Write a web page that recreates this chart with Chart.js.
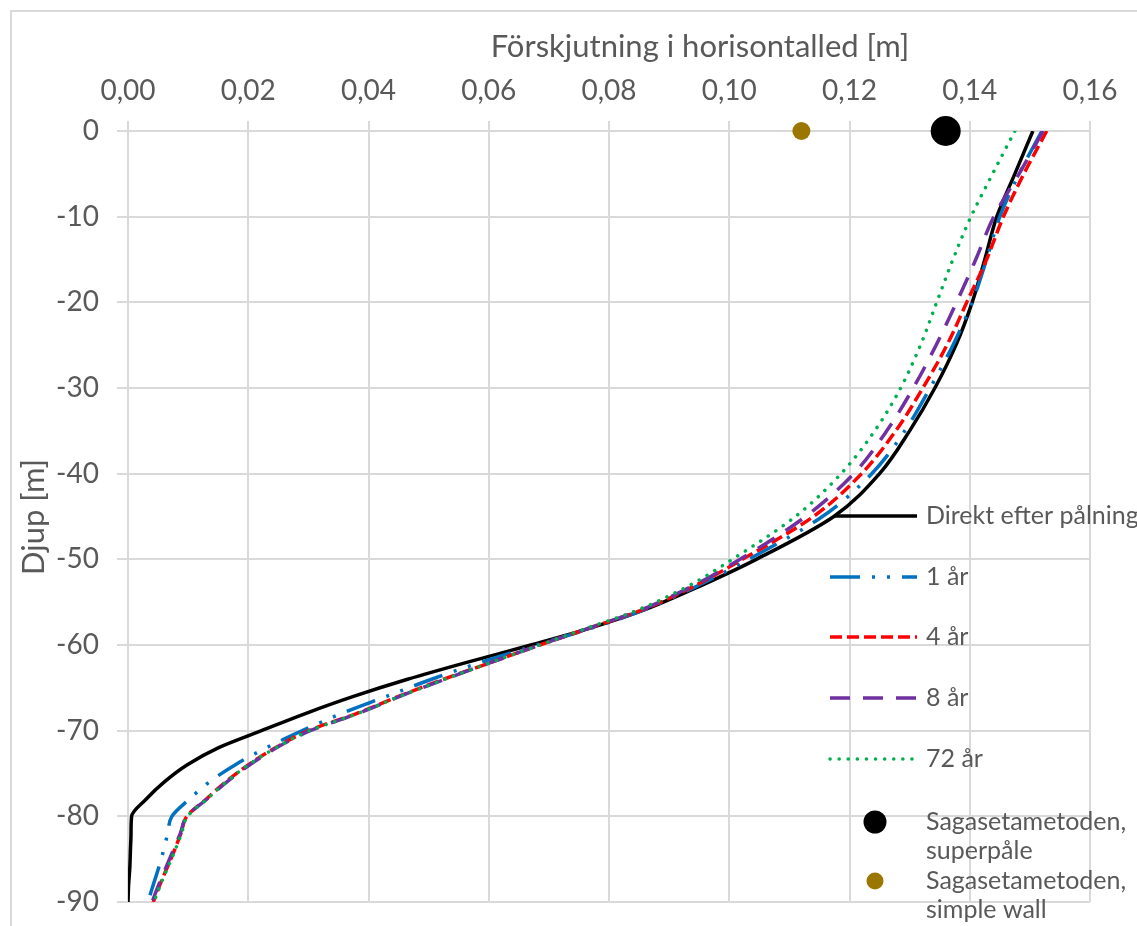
<!DOCTYPE html>
<html>
<head>
<meta charset="utf-8">
<title>Förskjutning i horisontalled</title>
<script src="https://cdn.jsdelivr.net/npm/chart.js@4.4.0/dist/chart.umd.min.js"></script>
<style>
  body { margin: 0; background: #fff; }
  #wrap { width: 1137px; height: 926px; }
</style>
</head>
<body>
<div id="wrap"><canvas id="chart" width="1137" height="926"></canvas></div>
<script>
// ----------- DATA ----------- //
// depth [m] and horizontal displacement [m] for each curve
const depth = [0, -5, -10, -15, -20, -25, -30, -35, -40, -45, -50, -53, -56, -58, -60,
  -62, -64, -66, -68, -70, -72, -74, -76, -78, -80, -82, -84, -86, -88, -90];

const direkt = [0.1505, 0.1475, 0.1445, 0.1425, 0.1404, 0.1377, 0.1342, 0.1300, 0.1250, 0.1174,
  0.1045, 0.0955, 0.0855, 0.0770, 0.0670, 0.0565, 0.0465, 0.0375, 0.0295, 0.0222,
  0.0150, 0.0098, 0.0060, 0.0030, 0.0006, 0.0005, 0.0004, 0.0003, 0.0001, 0.0];
const ar1 = [0.1520, 0.1482, 0.1450, 0.1428, 0.1404, 0.1372, 0.1334, 0.1292, 0.1237, 0.1155,
  0.1032, 0.0950, 0.0855, 0.0772, 0.0680, 0.0588, 0.0505, 0.0430, 0.0355, 0.0290,
  0.0230, 0.0178, 0.0135, 0.0102, 0.0073, 0.0066, 0.0059, 0.0051, 0.0042, 0.0033];
const ar4 = [0.1528, 0.1490, 0.1456, 0.1428, 0.1395, 0.1362, 0.1322, 0.1277, 0.1220, 0.1140,
  0.1022, 0.0945, 0.0852, 0.0768, 0.0685, 0.0605, 0.0525, 0.0450, 0.0380, 0.0300,
  0.0245, 0.0200, 0.0162, 0.0130, 0.0098, 0.0088, 0.0077, 0.0065, 0.0053, 0.0042];
const ar8 = [0.1522, 0.1482, 0.1440, 0.1410, 0.1378, 0.1344, 0.1306, 0.1262, 0.1207, 0.1127,
  0.1018, 0.0942, 0.0850, 0.0768, 0.0685, 0.0605, 0.0527, 0.0452, 0.0382, 0.0303,
  0.0247, 0.0202, 0.0164, 0.0131, 0.0098, 0.0087, 0.0075, 0.0063, 0.0051, 0.0040];
const ar72 = [0.1475, 0.1438, 0.1402, 0.1372, 0.1345, 0.1318, 0.1285, 0.1242, 0.1186, 0.1110,
  0.1005, 0.0935, 0.0845, 0.0765, 0.0685, 0.0605, 0.0527, 0.0452, 0.0382, 0.0302,
  0.0246, 0.0200, 0.0163, 0.0131, 0.0099, 0.0089, 0.0078, 0.0066, 0.0054, 0.0043];

// Sagasetametoden results at ground level
const superpaleX = [0.136];
const superpaleY = [0];
const wallX = [0.112];
const wallY = [0];

const seriesNames = ["Direkt efter pålning", "1 år", "4 år", "8 år", "72 år",
  "Sagasetametoden, superpåle", "Sagasetametoden, simple wall"];

const xTickValues = [0, 0.02, 0.04, 0.06, 0.08, 0.10, 0.12, 0.14, 0.16];
const yTickValues = [0, -10, -20, -30, -40, -50, -60, -70, -80, -90];
const xTitle = "Förskjutning i horisontalled [m]";
const yTitle = "Djup [m]";

// ----------- STYLE ----------- //
const FONT_FAMILY = "Lato, 'Open Sans', sans-serif";
const TEXT_COLOR = "#595959";
const GRID_COLOR = "#d9d9d9";

function pairs(xs, ys) {
  return xs.map((x, i) => ({ x: x, y: ys[i] }));
}

function curve(label, xs, color, dash, width, order, cap) {
  return {
    label: label,
    data: pairs(xs, depth),
    showLine: true,
    borderColor: color,
    backgroundColor: color,
    borderWidth: width,
    borderDash: dash,
    borderCapStyle: cap || "butt",
    pointRadius: 0,
    cubicInterpolationMode: "monotone",
    fill: false,
    order: order,
  };
}

function marker(label, xs, ys, color, radius) {
  return {
    label: label,
    data: pairs(xs, ys),
    showLine: false,
    backgroundColor: color,
    borderColor: color,
    pointRadius: radius,
    pointBorderWidth: 0,
    clip: false,
    order: 0,
  };
}

// keep the plot area fixed: no extra room for half tick labels
function fixScale(size) {
  return (scale) => {
    if (scale.isHorizontal()) scale.height = size;
    else scale.width = size;
    scale.paddingTop = 0;
    scale.paddingBottom = 0;
    scale.paddingLeft = 0;
    scale.paddingRight = 0;
  };
}

// legend rows: y position of each entry (canvas px)
const legendRows = [516, 577, 637, 698, 759, 822, 881];

const sideLegend = {
  id: "sideLegend",
  afterDraw(chart) {
    const ctx = chart.ctx;
    ctx.save();
    ctx.font = "25px " + FONT_FAMILY;
    ctx.textBaseline = "middle";
    chart.data.datasets.forEach((ds, i) => {
      const y = legendRows[i];
      const lines = ds.label.indexOf(", ") > 0 ? ds.label.replace(", ", ",\n").split("\n") : [ds.label];
      if (ds.showLine) {
        ctx.save();
        ctx.strokeStyle = ds.borderColor;
        ctx.lineWidth = ds.borderWidth;
        ctx.setLineDash(ds.borderDash || []);
        ctx.lineCap = ds.borderCapStyle;
        ctx.beginPath();
        ctx.moveTo(i === 0 ? 835 : 830, y);
        ctx.lineTo(917, y);
        ctx.stroke();
        ctx.restore();
      } else {
        ctx.beginPath();
        ctx.fillStyle = ds.backgroundColor;
        ctx.arc(875, y, i === 5 ? 11.5 : 8.5, 0, Math.PI * 2);
        ctx.fill();
      }
      ctx.fillStyle = TEXT_COLOR;
      lines.forEach((t, k) => ctx.fillText(t, 926, y + k * 29));
    });
    ctx.restore();
  },
};

const frameAndTitles = {
  id: "frameAndTitles",
  beforeDraw(chart) {
    const ctx = chart.ctx;
    ctx.save();
    ctx.fillStyle = "#fff";
    ctx.fillRect(0, 0, chart.width, chart.height);
    ctx.strokeStyle = GRID_COLOR;
    ctx.lineWidth = 2;
    ctx.strokeRect(11, 11, chart.width + 20, chart.height + 20);
    ctx.restore();
  },
  afterDraw(chart) {
    const ctx = chart.ctx;
    ctx.save();
    ctx.fillStyle = TEXT_COLOR;
    ctx.font = "31px " + FONT_FAMILY;
    ctx.textAlign = "center";
    ctx.textBaseline = "alphabetic";
    ctx.fillText(xTitle, 700, 57);
    ctx.translate(44, 517);
    ctx.rotate(-Math.PI / 2);
    ctx.fillText(yTitle, 0, 0);
    ctx.restore();
  },
};

// ----------- CHART ----------- //
new Chart(document.getElementById("chart"), {
  type: "line",
  data: {
    datasets: [
      curve(seriesNames[0], direkt, "#000000", [], 3.5, 5),
      curve(seriesNames[1], ar1, "#0070C0", [30, 12, 3, 12, 3, 12], 3.5, 4),
      curve(seriesNames[2], ar4, "#FF0000", [12, 5], 3.5, 3),
      curve(seriesNames[3], ar8, "#7030A0", [20, 13], 3.5, 2),
      curve(seriesNames[4], ar72, "#00B050", [0.1, 9], 3.5, 1, "round"),
      marker(seriesNames[5], superpaleX, superpaleY, "#000000", 15),
      marker(seriesNames[6], wallX, wallY, "#9C7700", 9),
    ],
  },
  options: {
    responsive: false,
    animation: false,
    indexAxis: "y",
    layout: { padding: { left: 0, top: 0, right: 47, bottom: 24 } },
    plugins: {
      legend: { display: false },
      tooltip: { enabled: false },
    },
    scales: {
      x: {
        type: "linear",
        position: "top",
        min: 0,
        max: 0.16,
        afterBuildTicks: (scale) => { scale.ticks = xTickValues.map((v) => ({ value: v })); },
        afterFit: fixScale(131),
        ticks: {
          color: TEXT_COLOR,
          font: { family: FONT_FAMILY, size: 28 },
          padding: 13,
          maxRotation: 0,
          callback: (v) => v.toFixed(2).replace(".", ","),
        },
        grid: { color: GRID_COLOR, lineWidth: 2, tickLength: 10 },
        border: { color: GRID_COLOR, width: 2 },
      },
      y: {
        type: "linear",
        position: "left",
        min: -90,
        max: 0,
        afterBuildTicks: (scale) => { scale.ticks = yTickValues.map((v) => ({ value: v })); },
        afterFit: fixScale(128),
        ticks: {
          color: TEXT_COLOR,
          font: { family: FONT_FAMILY, size: 28 },
          padding: 18,
          callback: (v) => String(v),
        },
        grid: { color: GRID_COLOR, lineWidth: 2, tickLength: 11 },
        border: { color: GRID_COLOR, width: 2 },
      },
    },
  },
  plugins: [frameAndTitles, sideLegend],
});
</script>
</body>
</html>
